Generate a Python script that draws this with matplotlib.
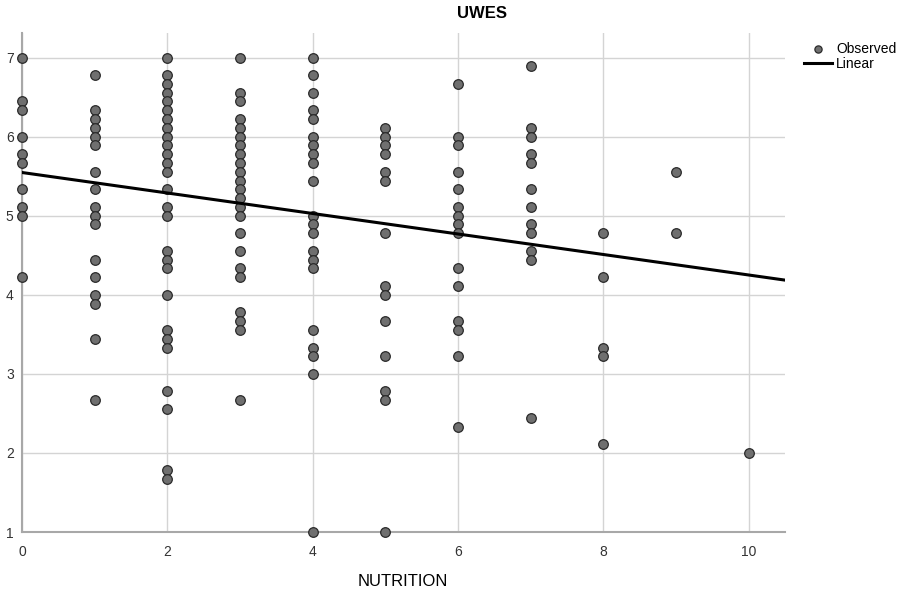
import numpy as np
import matplotlib
matplotlib.use("Agg")
import matplotlib.pyplot as plt

plt.rcParams['font.family'] = ['Liberation Sans', 'DejaVu Sans']

# UWES score (mean of 9 items) per NUTRITION level
uwes_by_nutrition = {
    0: [7.0, 6.444, 6.333, 6.0, 5.778, 5.667, 5.333, 5.111, 5.0, 4.222],
    1: [6.778, 6.333, 6.222, 6.111, 6.0, 5.889, 5.556, 5.333, 5.111, 5.0,
        4.889, 4.444, 4.222, 4.0, 3.889, 3.444, 2.667],
    2: [7.0, 6.778, 6.667, 6.556, 6.444, 6.333, 6.222, 6.111, 6.0, 5.889,
        5.778, 5.667, 5.556, 5.333, 5.111, 5.0, 4.556, 4.444, 4.333, 4.0,
        3.556, 3.444, 3.333, 2.778, 2.556, 1.778, 1.667],
    3: [7.0, 6.556, 6.444, 6.222, 6.111, 6.0, 5.889, 5.778, 5.667, 5.556,
        5.444, 5.333, 5.222, 5.111, 5.0, 4.778, 4.556, 4.333, 4.222, 3.778,
        3.667, 3.556, 2.667],
    4: [7.0, 6.778, 6.556, 6.333, 6.222, 6.0, 5.889, 5.778, 5.667, 5.444,
        5.0, 4.889, 4.778, 4.556, 4.444, 4.333, 3.556, 3.333, 3.222, 3.0, 1.0],
    5: [6.111, 6.0, 5.889, 5.778, 5.556, 5.444, 4.778, 4.111, 4.0, 3.667,
        3.222, 2.778, 2.667, 1.0],
    6: [6.667, 6.0, 5.889, 5.556, 5.333, 5.111, 5.0, 4.889, 4.778, 4.333,
        4.111, 3.667, 3.556, 3.222, 2.333],
    7: [6.889, 6.111, 6.0, 5.778, 5.667, 5.333, 5.111, 4.889, 4.778, 4.556,
        4.444, 2.444],
    8: [4.778, 4.222, 3.333, 3.222, 2.111],
    9: [5.556, 4.778],
    10: [2.0],
}

# linear fit line
fit_intercept = 5.546
fit_slope = -0.1296

x = []
y = []
for k, vals in uwes_by_nutrition.items():
    x += [k] * len(vals)
    y += vals

fig = plt.figure(figsize=(9.12, 5.94), dpi=100)
ax = fig.add_axes([22 / 912, 1 - 532 / 594, (785 - 22) / 912, (532 - 33) / 594])

ax.set_xlim(0, 10.5)
ax.set_ylim(1, 7.31)
ax.set_xticks([0, 2, 4, 6, 8, 10])
ax.set_yticks([1, 2, 3, 4, 5, 6, 7])
ax.grid(True, color="#d4d4d4", linewidth=1)
ax.set_axisbelow(True)

for s in ["top", "right"]:
    ax.spines[s].set_visible(False)
for s in ["left", "bottom"]:
    ax.spines[s].set_color("#a8a8a8")
    ax.spines[s].set_linewidth(1.5)
ax.tick_params(length=0, labelsize=10, colors="#333333")
ax.tick_params(axis="x", pad=9)
ax.tick_params(axis="y", pad=6)

pts = ax.scatter(x, y, s=48, c="#6f6f6f", edgecolors="#2a2a2a",
                 linewidths=0.9, zorder=3, clip_on=False, label="Observed")
xl = np.array([0, 10.5])
line, = ax.plot(xl, fit_intercept + fit_slope * xl, color="black",
                linewidth=2.2, zorder=4, label="Linear")

fig.text(482 / 912, 1 - 13 / 594, "UWES", ha="center", va="center",
         fontsize=12, fontweight="bold")
fig.text(403 / 912, 1 - 581 / 594, "NUTRITION", ha="center", va="center",
         fontsize=12)

fig.legend(handles=[pts, line], loc="upper left",
           bbox_to_anchor=(797 / 912, 1 - 35 / 594), frameon=False,
           fontsize=10, handlelength=2.0, handletextpad=0.3,
           labelspacing=0.1, borderpad=0, markerscale=0.75)

fig.savefig("out.png", dpi=100)
